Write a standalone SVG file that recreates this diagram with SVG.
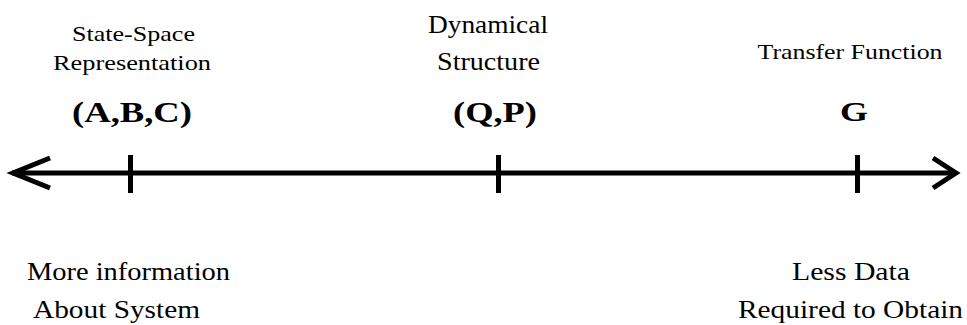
<svg xmlns="http://www.w3.org/2000/svg" width="967" height="325" viewBox="0 0 967 325">
<style>
text{font-family:'Liberation Serif','Times New Roman',serif;fill:#000;text-anchor:middle}
.b{font-weight:bold}
.ln{stroke:#000;stroke-width:5;fill:none;stroke-linecap:butt}
</style>
<rect width="967" height="325" fill="#fff"/>
<g id="connectors">
<line class="ln" x1="12" y1="173" x2="955" y2="173"/>
<polyline class="ln" points="50,158 13,173 50,188" stroke-linejoin="miter"/>
<polyline class="ln" points="933,158 956,173 933,188" stroke-linejoin="miter"/>
</g>
<g id="tick-abc"><line class="ln" x1="130.5" y1="155" x2="130.5" y2="193"/></g>
<g id="tick-qp"><line class="ln" x1="498.5" y1="155" x2="498.5" y2="193"/></g>
<g id="tick-g"><line class="ln" x1="857.5" y1="155" x2="857.5" y2="193"/></g>
<g id="node-ss">
<text x="133.5" y="41" font-size="21" textLength="123" lengthAdjust="spacingAndGlyphs">State-Space</text>
<text x="132" y="70" font-size="21" textLength="158" lengthAdjust="spacingAndGlyphs">Representation</text>
<text class="b" x="132" y="122" font-size="29" textLength="120" lengthAdjust="spacingAndGlyphs">(A,B,C)</text>
</g>
<g id="node-dyn">
<text x="488" y="33" font-size="25" textLength="120" lengthAdjust="spacingAndGlyphs">Dynamical</text>
<text x="488.5" y="70" font-size="25" textLength="103" lengthAdjust="spacingAndGlyphs">Structure</text>
<text class="b" x="495" y="122" font-size="29" textLength="84" lengthAdjust="spacingAndGlyphs">(Q,P)</text>
</g>
<g id="node-tf">
<text x="850" y="59" font-size="22" textLength="185" lengthAdjust="spacingAndGlyphs">Transfer Function</text>
<text class="b" x="854" y="121" font-size="28" textLength="28" lengthAdjust="spacingAndGlyphs">G</text>
</g>
<g id="note-more">
<text x="128.5" y="280" font-size="26" textLength="203" lengthAdjust="spacingAndGlyphs">More information</text>
<text x="116.5" y="318" font-size="26" textLength="167" lengthAdjust="spacingAndGlyphs">About System</text>
</g>
<g id="note-less">
<text x="851" y="280" font-size="26" textLength="118" lengthAdjust="spacingAndGlyphs">Less Data</text>
<text x="850.5" y="318" font-size="26" textLength="225" lengthAdjust="spacingAndGlyphs">Required to Obtain</text>
</g>
</svg>
